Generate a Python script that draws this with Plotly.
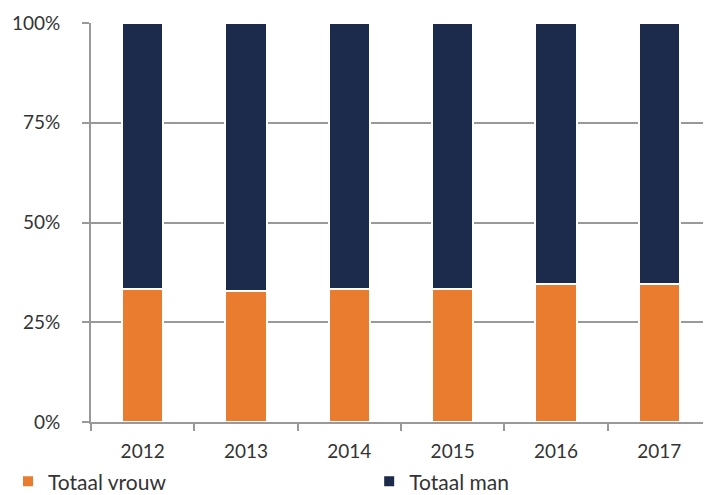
import plotly.graph_objects as go

years = ["2012", "2013", "2014", "2015", "2016", "2017"]
vrouw = [33.4, 32.9, 33.4, 33.4, 34.5, 34.6]
man = [100 - v for v in vrouw]
y_ticks = [0, 25, 50, 75, 100]
y_labels = ["0%", "25%", "50%", "75%", "100%"]

fig = go.Figure()
fig.add_trace(go.Bar(x=years, y=vrouw, name="Totaal vrouw", legend="legend",
                     marker=dict(color="#E97C2F", line=dict(color="white", width=2))))
fig.add_trace(go.Bar(x=years, y=man, name="Totaal man", legend="legend2",
                     marker=dict(color="#1C2B4B", line=dict(color="white", width=2))))

font = "Lato, 'Open Sans', sans-serif"
leg_common = dict(orientation="h", yref="container", y=0.043, yanchor="middle",
                  xref="container", xanchor="left",
                  font=dict(size=21, color="#333333"), bgcolor="rgba(0,0,0,0)")
fig.update_layout(
    barmode="stack",
    bargap=0.6,
    width=711, height=495,
    margin=dict(l=83, r=8, t=15, b=81),
    plot_bgcolor="white", paper_bgcolor="white",
    font=dict(family=font, size=19, color="#333333"),
    showlegend=True,
    legend=dict(x=0.0, **leg_common),
    legend2=dict(x=0.508, **leg_common),
)
fig.update_yaxes(range=[0, 100], tickvals=y_ticks, ticktext=y_labels,
                 showgrid=True, gridcolor="#999999", gridwidth=2,
                 showline=True, linecolor="#999999", linewidth=2,
                 ticks="outside", ticklen=7, tickwidth=2, tickcolor="#999999",
                 ticklabelstandoff=18, zeroline=False, automargin=False)
fig.update_xaxes(showline=True, linecolor="#999999", linewidth=2,
                 ticks="outside", ticklen=7, tickwidth=2, tickcolor="#999999",
                 tickson="boundaries", ticklabelstandoff=11, showgrid=False, automargin=False)
fig.write_html("out.html")
